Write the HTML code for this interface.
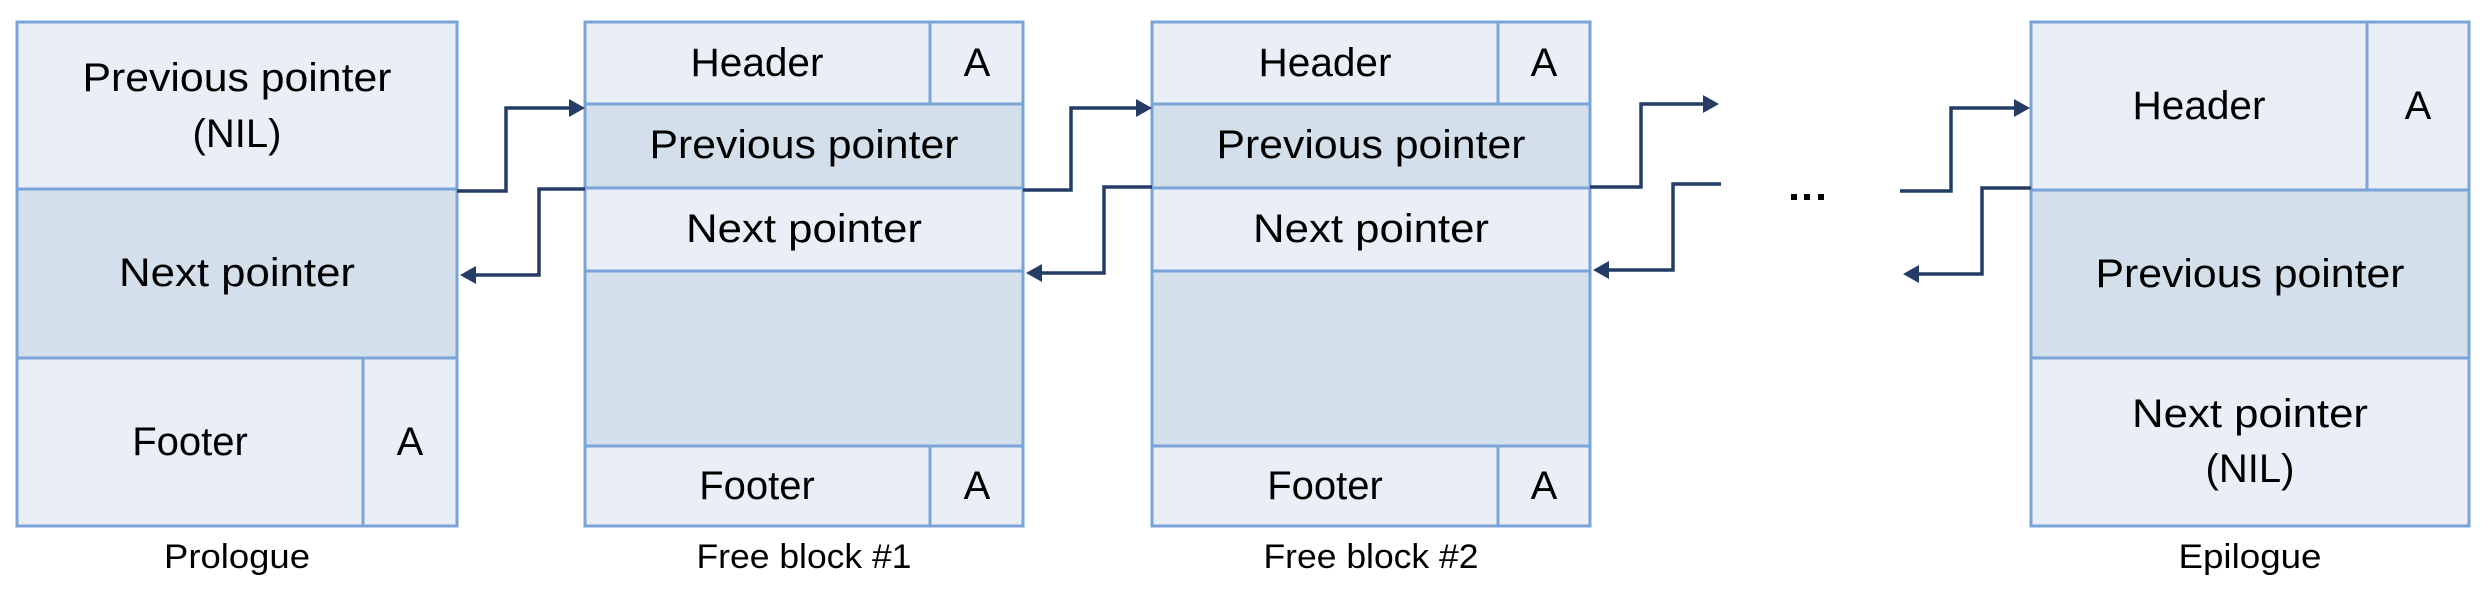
<!DOCTYPE html>
<html><head><meta charset="utf-8"><style>
html,body{margin:0;padding:0;background:#fff;}
svg{display:block;}
text{font-family:"Liberation Sans",sans-serif;fill:#000;}
</style></head><body>
<svg width="2490" height="594" viewBox="0 0 2490 594" xmlns="http://www.w3.org/2000/svg">
<g stroke="#7aa3d8" stroke-width="3">
<rect x="17" y="22" width="440" height="167" fill="#eaeef7"/>
<rect x="17" y="189" width="440" height="169" fill="#d4dfec"/>
<rect x="17" y="358" width="346" height="168" fill="#eaeef7"/>
<rect x="363" y="358" width="94" height="168" fill="#eaeef7"/>
<rect x="585" y="22" width="345" height="82" fill="#eaeef7"/>
<rect x="930" y="22" width="93" height="82" fill="#eaeef7"/>
<rect x="585" y="104" width="438" height="84" fill="#d4dfec"/>
<rect x="585" y="188" width="438" height="83" fill="#eaeef7"/>
<rect x="585" y="271" width="438" height="175" fill="#d4dfec"/>
<rect x="585" y="446" width="345" height="80" fill="#eaeef7"/>
<rect x="930" y="446" width="93" height="80" fill="#eaeef7"/>
<rect x="1152" y="22" width="346" height="82" fill="#eaeef7"/>
<rect x="1498" y="22" width="92" height="82" fill="#eaeef7"/>
<rect x="1152" y="104" width="438" height="84" fill="#d4dfec"/>
<rect x="1152" y="188" width="438" height="83" fill="#eaeef7"/>
<rect x="1152" y="271" width="438" height="175" fill="#d4dfec"/>
<rect x="1152" y="446" width="346" height="80" fill="#eaeef7"/>
<rect x="1498" y="446" width="92" height="80" fill="#eaeef7"/>
<rect x="2031" y="22" width="336" height="168" fill="#eaeef7"/>
<rect x="2367" y="22" width="102" height="168" fill="#eaeef7"/>
<rect x="2031" y="190" width="438" height="168" fill="#d4dfec"/>
<rect x="2031" y="358" width="438" height="168" fill="#eaeef7"/>
</g>
<g stroke="#253d66" stroke-width="3.5" fill="none">
<polyline points="457,191 506,191 506,108 570,108"/>
<polyline points="585,189 539,189 539,275 475,275"/>
<polyline points="1023,190 1071,190 1071,108 1137,108"/>
<polyline points="1152,187 1104,187 1104,273 1041,273"/>
<polyline points="1590,187 1641,187 1641,104 1704,104"/>
<polyline points="1721,184 1673,184 1673,270 1608,270"/>
<polyline points="1900,191 1951,191 1951,108 2015,108"/>
<polyline points="2031,188 1982,188 1982,274 1918,274"/>
</g>
<g fill="#253d66">
<polygon points="585,108 569,99 569,117"/>
<polygon points="460,275 476,266 476,284"/>
<polygon points="1152,108 1136,99 1136,117"/>
<polygon points="1026,273 1042,264 1042,282"/>
<polygon points="1719,104 1703,95 1703,113"/>
<polygon points="1593,270 1609,261 1609,279"/>
<polygon points="2030,108 2014,99 2014,117"/>
<polygon points="1903,274 1919,265 1919,283"/>
</g>
<g fill="#000">
<rect x="1791" y="194" width="6" height="6"/>
<rect x="1804" y="194" width="6" height="6"/>
<rect x="1818" y="194" width="6" height="6"/>
</g>
<g font-size="40" text-anchor="middle">
<text x="237" y="91" textLength="309" lengthAdjust="spacingAndGlyphs">Previous pointer</text>
<text x="237" y="147">(NIL)</text>
<text x="237" y="286" textLength="236" lengthAdjust="spacingAndGlyphs">Next pointer</text>
<text x="190" y="455">Footer</text>
<text x="410" y="455">A</text>
<text x="757" y="76" textLength="133" lengthAdjust="spacingAndGlyphs">Header</text>
<text x="977" y="76">A</text>
<text x="804" y="158" textLength="309" lengthAdjust="spacingAndGlyphs">Previous pointer</text>
<text x="804" y="242" textLength="236" lengthAdjust="spacingAndGlyphs">Next pointer</text>
<text x="757" y="499">Footer</text>
<text x="977" y="499">A</text>
<text x="1325" y="76" textLength="133" lengthAdjust="spacingAndGlyphs">Header</text>
<text x="1544" y="76">A</text>
<text x="1371" y="158" textLength="309" lengthAdjust="spacingAndGlyphs">Previous pointer</text>
<text x="1371" y="242" textLength="236" lengthAdjust="spacingAndGlyphs">Next pointer</text>
<text x="1325" y="499">Footer</text>
<text x="1544" y="499">A</text>
<text x="2199" y="119" textLength="133" lengthAdjust="spacingAndGlyphs">Header</text>
<text x="2418" y="119">A</text>
<text x="2250" y="287" textLength="309" lengthAdjust="spacingAndGlyphs">Previous pointer</text>
<text x="2250" y="427" textLength="236" lengthAdjust="spacingAndGlyphs">Next pointer</text>
<text x="2250" y="482">(NIL)</text>
</g>
<g font-size="34" text-anchor="middle">
<text x="237" y="568" textLength="146" lengthAdjust="spacingAndGlyphs">Prologue</text>
<text x="804" y="568" textLength="215" lengthAdjust="spacingAndGlyphs">Free block #1</text>
<text x="1371" y="568" textLength="215" lengthAdjust="spacingAndGlyphs">Free block #2</text>
<text x="2250" y="568" textLength="143" lengthAdjust="spacingAndGlyphs">Epilogue</text>
</g>
</svg>
</body></html>
